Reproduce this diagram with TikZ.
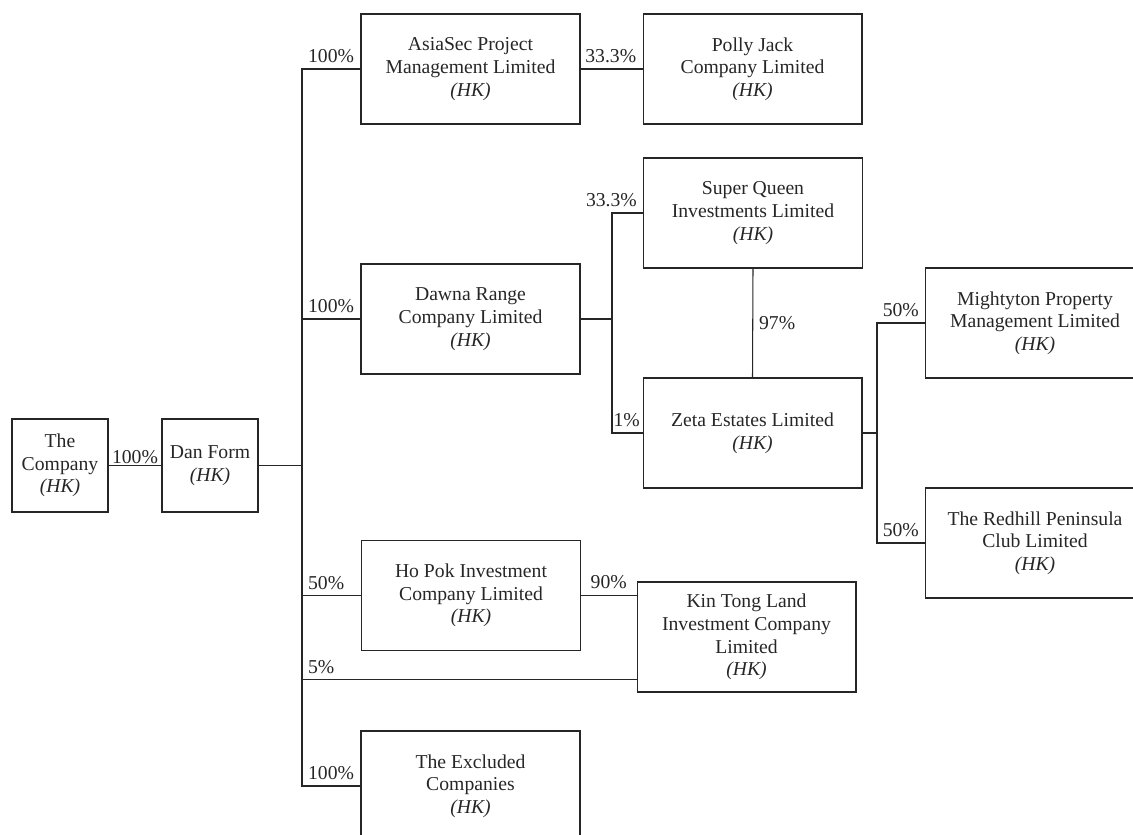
\documentclass[tikz,border=0pt]{standalone}
\usepackage{fontspec}
\setmainfont{Liberation Serif}
\usepackage{tikz}

\begin{document}
\begin{tikzpicture}[x=0.02cm,y=-0.02cm,
  every node/.style={font=\fontsize{11.2}{12.9}\selectfont, text=black!85},
  firm/.style={draw=black!85, line width=0.6pt, align=center, inner sep=0pt, minimum width=4.38cm, minimum height=2.2cm},
  smallfirm/.style={firm, minimum width=1.92cm, minimum height=1.86cm},
  link/.style={draw=black!85, line width=0.6pt},
  pct/.style={inner sep=3.3pt}]
\useasboundingbox (0,0) rectangle (1133,835);
\clip (0,0) rectangle (1133,835);
\node[smallfirm] (comp) at (60,465.5) {The\\Company\\\textit{(HK)}};
\node[smallfirm] (dan) at (210,465.5) {Dan Form\\\textit{(HK)}};
\node[firm] (asia) at (470.5,69) {AsiaSec Project\\Management Limited\\\textit{(HK)}};
\node[firm] (polly) at (752.5,69) {Polly Jack\\Company Limited\\\textit{(HK)}};
\node[firm] (dawna) at (470.5,319) {Dawna Range\\Company Limited\\\textit{(HK)}};
\node[firm] (sq) at (753,213) {Super Queen\\Investments Limited\\\textit{(HK)}};
\node[firm] (zeta) at (752.5,433) {Zeta Estates Limited\\\textit{(HK)}};
\node[firm] (might) at (1035,323) {Mightyton Property\\Management Limited\\\textit{(HK)}};
\node[firm] (red) at (1035,543) {The Redhill Peninsula\\Club Limited\\\textit{(HK)}};
\node[firm] (hopok) at (471,595.5) {Ho Pok Investment\\Company Limited\\\textit{(HK)}};
\node[firm] (kin) at (746.5,637) {Kin Tong Land\\Investment Company\\Limited\\\textit{(HK)}};
\node[firm] (excl) at (470.5,786) {The Excluded\\Companies\\\textit{(HK)}};
\coordinate (bus) at (302,465.5);
\coordinate (bus2) at (612,319);
\coordinate (bus3) at (877,433);
\coordinate (kinlow) at ([yshift=0.26cm]kin.south west);
\draw[link] (comp.east) -- (dan.west) node[midway, above, inner sep=0.8pt] {100\%};
\draw[link] (dan.east) -- (bus);
\draw[link] (asia.west) -- (asia.west -| bus) -- (excl.west -| bus) -- (excl.west);
\draw[link] (dawna.west) -- (dawna.west -| bus);
\draw[link] (hopok.west) -- (hopok.west -| bus);
\draw[link] (kinlow) -- (kinlow -| bus);
\node[pct, above right] at (asia.west -| bus) {100\%};
\node[pct, above right] at (dawna.west -| bus) {100\%};
\node[pct, above right] at (hopok.west -| bus) {50\%};
\node[pct, above right] at (kinlow -| bus) {5\%};
\node[pct, above right] at (excl.west -| bus) {100\%};
\draw[link] (asia.east) -- (polly.west) node[pct, pos=1, above left] {33.3\%};
\draw[link] (hopok.east) -- (hopok.east -| kin.west) node[pct, midway, above] {90\%};
\draw[link] (dawna.east) -- (bus2);
\draw[link] (sq.west) -- (sq.west -| bus2) -- (zeta.west -| bus2) -- (zeta.west);
\node[pct, above left] at (sq.west) {33.3\%};
\node[pct, above left, xshift=2pt] at (zeta.west) {1\%};
\draw[link] (sq.south) -- (zeta.north) node[pct, midway, right] {97\%};
\draw[link] (zeta.east) -- (bus3);
\draw[link] (might.west) -- (might.west -| bus3) -- (red.west -| bus3) -- (red.west);
\node[pct, above left] at (might.west) {50\%};
\node[pct, above left] at (red.west) {50\%};
\end{tikzpicture}
\end{document}
